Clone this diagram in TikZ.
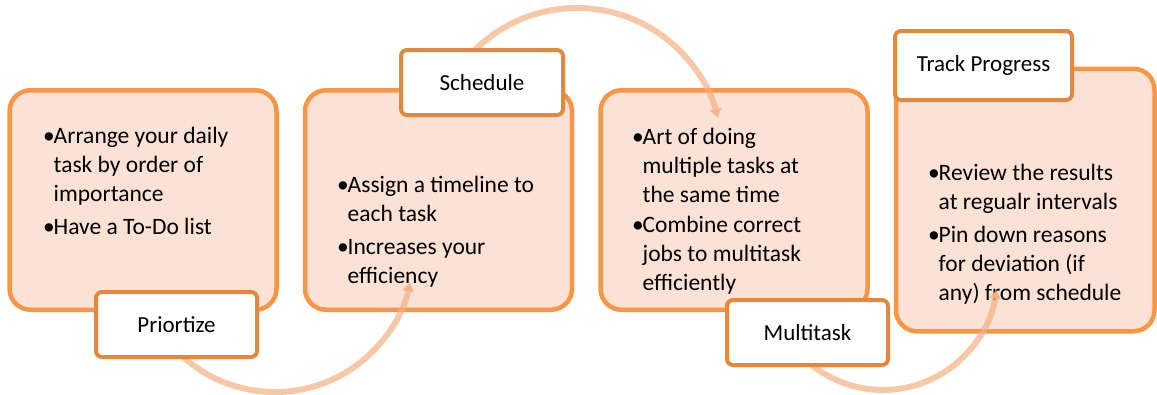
\documentclass[tikz,border=0pt]{standalone}
\usepackage{fontspec}
\setmainfont{Carlito}
\usetikzlibrary{arrows.meta,positioning,calc}
\definecolor{boxline}{HTML}{F79646}
\definecolor{boxfill}{HTML}{FCE1D5}
\definecolor{tagline}{HTML}{E3883F}
\definecolor{flowline}{HTML}{F4B183}
\newcommand{\bul}{\makebox[10.5pt][l]{•}}

\begin{document}
\begin{tikzpicture}[
      x=1pt, y=-1pt,
      card/.style={draw=boxline, fill=boxfill, line width=4.5pt,
                   rounded corners=21pt, minimum width=267pt,
                   minimum height=219.5pt},
      tag/.style={draw=tagline, fill=white, line width=4pt,
                  rounded corners=6pt, minimum width=161pt,
                  minimum height=65pt, font=\fontsize{23}{28}\selectfont},
      txt/.style={anchor=base west, inner sep=0pt,
                  font=\fontsize{23.5}{29}\selectfont},
      flow/.style={line width=6pt, draw=flowline, draw opacity=0.7,
                   -{Triangle[length=9pt,width=12pt]}}
    ]
    \useasboundingbox (0,0) rectangle (1157,394);

    % big cards
    \node[card] (prio) at (143,200) {};
    \node[card, right=24pt of prio] (sche) {};
    \node[card, right=24pt of sche] (mult) {};
    \node[card, right=24pt of mult, minimum width=258.5pt,
          minimum height=262.5pt] (trak) {};

    % card texts
    \node[txt] (t1) at (43,143) {\begin{tabular}[t]{@{}l@{}l@{}}
      \bul & Arrange your daily\\ & task by order of\\ & importance\\[4pt]
      \bul & Have a To-Do list\end{tabular}};
    \node[txt] (t2) at (337,192) {\begin{tabular}[t]{@{}l@{}l@{}}
      \bul & Assign a timeline to\\ & each task\\[4pt]
      \bul & Increases your\\ & efficiency\end{tabular}};
    \node[txt] (t3) at (632,144) {\begin{tabular}[t]{@{}l@{}l@{}}
      \bul & Art of doing\\ & multiple tasks at\\ & the same time\\[1pt]
      \bul & Combine correct\\ & jobs to multitask\\ & efficiently\end{tabular}};
    \node[txt] (t4) at (928,180) {\begin{tabular}[t]{@{}l@{}l@{}}
      \bul & Review the results\\ & at regualr intervals\\[4pt]
      \bul & Pin down reasons\\ & for deviation (if\\ & any) from schedule\end{tabular}};

    % flow arcs
    \coordinate (o1) at (275,254);
    \coordinate (o2) at (577,153);
    \coordinate (o3) at (883,276);
    \draw[flow] ($(o1)+(140:138)$) arc[start angle=140, end angle=12, radius=138];
    \draw[flow] ($(o2)+(220:145)$) arc[start angle=220, end angle=346, radius=145];
    \draw[flow] ($(o3)+(145:114)$) arc[start angle=145, end angle=7, radius=114];

    % tags
    \node[tag] (pri) at (176.5,324.5) {Priortize};
    \node[tag, minimum width=162pt] (sch) at (482,82.5) {Schedule};
    \node[tag] (mul) at (807.5,332.5) {Multitask};
    \node[tag, minimum width=177pt, minimum height=69pt] (trk) at (983.5,65.5)
      {Track Progress};
  \end{tikzpicture}
\end{document}
